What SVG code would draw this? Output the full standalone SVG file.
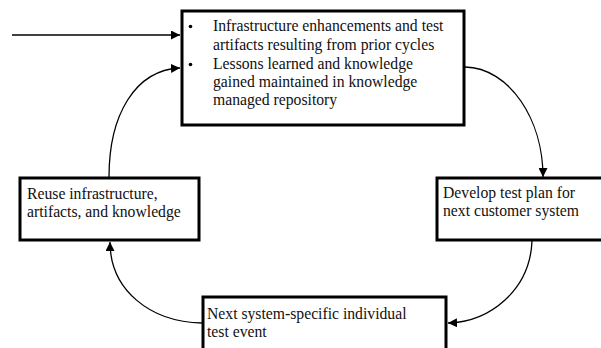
<svg xmlns="http://www.w3.org/2000/svg" width="601" height="348" viewBox="0 0 601 348">
<style>
.box{fill:#fff;stroke:#000;stroke-width:3}
.t{font-family:"Liberation Serif","Times New Roman",serif;font-size:15.7px;fill:#111}
.c{fill:none;stroke:#000;stroke-width:1.3}
</style>
<defs>
<marker id="ah" viewBox="0 0 10 10" refX="10" refY="5" markerWidth="9" markerHeight="9" markerUnits="userSpaceOnUse" orient="auto">
<path d="M0,0 L10,5 L0,10 Z" fill="#000"/>
</marker>
</defs>
<rect width="601" height="348" fill="#fff"/>
<g id="connectors">
<line class="c" x1="12" y1="35" x2="180" y2="35" marker-end="url(#ah)"/>
<path class="c" d="M109,177 C109,115 135,70 180,68" marker-end="url(#ah)"/>
<path class="c" d="M465,67 C510,68 543,120 543,177" marker-end="url(#ah)"/>
<path class="c" d="M532,241 C530,290 490,322 448,323" marker-end="url(#ah)"/>
<path class="c" d="M202,323 C150,322 110,290 110,242" marker-end="url(#ah)"/>
</g>
<g id="top">
<rect class="box" x="182" y="11" width="282" height="114"/>
<circle cx="190.5" cy="26.5" r="1.8" fill="#000"/>
<circle cx="190.5" cy="64.5" r="1.8" fill="#000"/>
<text class="t" x="213" y="31">Infrastructure enhancements and test</text>
<text class="t" x="213" y="50">artifacts resulting from prior cycles</text>
<text class="t" x="213" y="69">Lessons learned and knowledge</text>
<text class="t" x="213" y="87">gained maintained in knowledge</text>
<text class="t" x="213" y="105">managed repository</text>
</g>
<g id="right">
<rect class="box" x="437" y="178" width="166" height="62"/>
<text class="t" x="443" y="198">Develop test plan for</text>
<text class="t" x="443" y="216">next customer system</text>
</g>
<g id="bottom">
<rect class="box" x="203" y="297" width="243" height="60"/>
<text class="t" x="207" y="319">Next system-specific individual</text>
<text class="t" x="207" y="337">test event</text>
</g>
<g id="left">
<rect class="box" x="20" y="178" width="179" height="62"/>
<text class="t" x="27" y="199">Reuse infrastructure,</text>
<text class="t" x="27" y="217">artifacts, and knowledge</text>
</g>
</svg>
